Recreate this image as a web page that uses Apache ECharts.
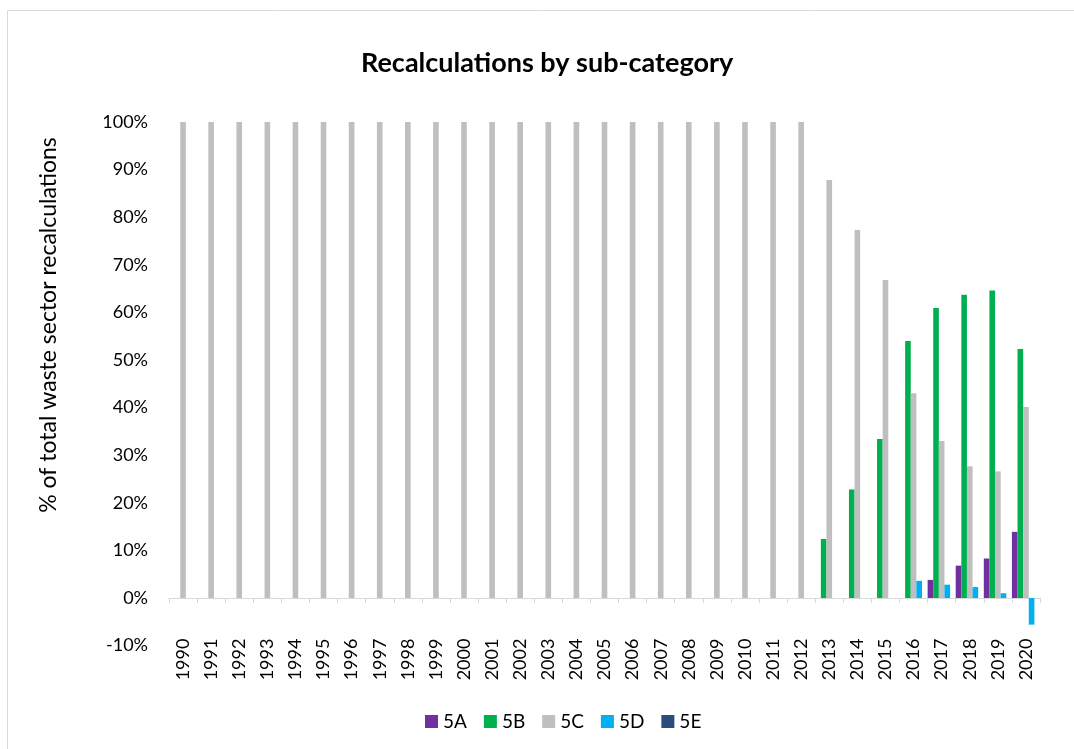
<!DOCTYPE html>
<html>
<head>
<meta charset="utf-8">
<script src="https://cdn.jsdelivr.net/npm/echarts@6/dist/echarts.min.js"></script>
<style>
html,body{margin:0;padding:0;background:#fff;}
#chart{width:1074px;height:749px;}
</style>
</head>
<body>
<div id="chart"></div>
<script>
const years = ['1990','1991','1992','1993','1994','1995','1996','1997','1998','1999','2000','2001','2002','2003','2004','2005','2006','2007','2008','2009','2010','2011','2012','2013','2014','2015','2016','2017','2018','2019','2020'];
const s5A = [0,0,0,0,0,0,0,0,0,0,0,0,0,0,0,0,0,0,0,0,0,0,0, 0,0,0,0,3.8,6.8,8.3,13.9];
const s5B = [0,0,0,0,0,0,0,0,0,0,0,0,0,0,0,0,0,0,0,0,0,0,0, 12.4,22.8,33.4,54.0,60.9,63.7,64.6,52.3];
const s5C = [100,100,100,100,100,100,100,100,100,100,100,100,100,100,100,100,100,100,100,100,100,100,100, 87.8,77.3,66.8,43.0,33.0,27.7,26.6,40.1];
const s5D = [0,0,0,0,0,0,0,0,0,0,0,0,0,0,0,0,0,0,0,0,0,0,0, 0,0,0,3.6,2.8,2.3,1.0,-5.6];
const s5E = [0,0,0,0,0,0,0,0,0,0,0,0,0,0,0,0,0,0,0,0,0,0,0, 0,0,0,0,0,0,0,0];
const seriesNames = ['5A','5B','5C','5D','5E'];
const seriesColors = ['#7030A0','#00B050','#BFBFBF','#00B0F0','#2B4C7E'];
const seriesData = [s5A,s5B,s5C,s5D,s5E];

const FONT = 'Lato';
const chart = echarts.init(document.getElementById('chart'));
chart.setOption({
  animation: false,
  backgroundColor: '#fff',
  textStyle: {fontFamily: FONT},
  title: {
    text: 'Recalculations by sub-category',
    left: 356, top: 45,
    textStyle: {fontFamily: FONT, fontWeight: 'bold', fontSize: 27, color: '#000'}
  },
  graphic: [
    {type: 'rect', left: 5, top: 8, shape: {width: 1200, height: 900}, style: {fill: 'none', stroke: '#D9D9D9', lineWidth: 1}, silent: true, z: -1},
    {type: 'text', x: 49, y: 325, rotation: Math.PI/2,
     style: {text: '% of total waste sector recalculations', fill: '#000', font: '23px Lato', align: 'center', verticalAlign: 'middle'}}
  ],
  legend: {
    bottom: 13, left: 420,
    itemWidth: 13, itemHeight: 13, itemGap: 17,
    icon: 'rect',
    textStyle: {fontFamily: FONT, fontSize: 19, color: '#000'},
    data: seriesNames
  },
  grid: {left: 169, right: 34, top: 122, bottom: 103.4, containLabel: false},
  xAxis: {
    type: 'category', data: years,
    axisLine: {onZero: true, lineStyle: {color: '#D9D9D9', width: 1}},
    axisTick: {show: true, length: 5, lineStyle: {color: '#D9D9D9'}},
    axisLabel: {rotate: 90, margin: -7, fontFamily: FONT, fontSize: 18, color: '#000', interval: 0}
  },
  yAxis: {
    type: 'value', min: -10, max: 100, interval: 10,
    axisLine: {show: false}, axisTick: {show: false}, splitLine: {show: false},
    axisLabel: {formatter: '{value}%', margin: 21, fontFamily: FONT, fontSize: 18, color: '#000'}
  },
  series: seriesNames.map((n, i) => ({
    name: n, type: 'bar', data: seriesData[i],
    itemStyle: {color: seriesColors[i]},
    barGap: '0%', barCategoryGap: '0%'
  }))
});
</script>
</body>
</html>
